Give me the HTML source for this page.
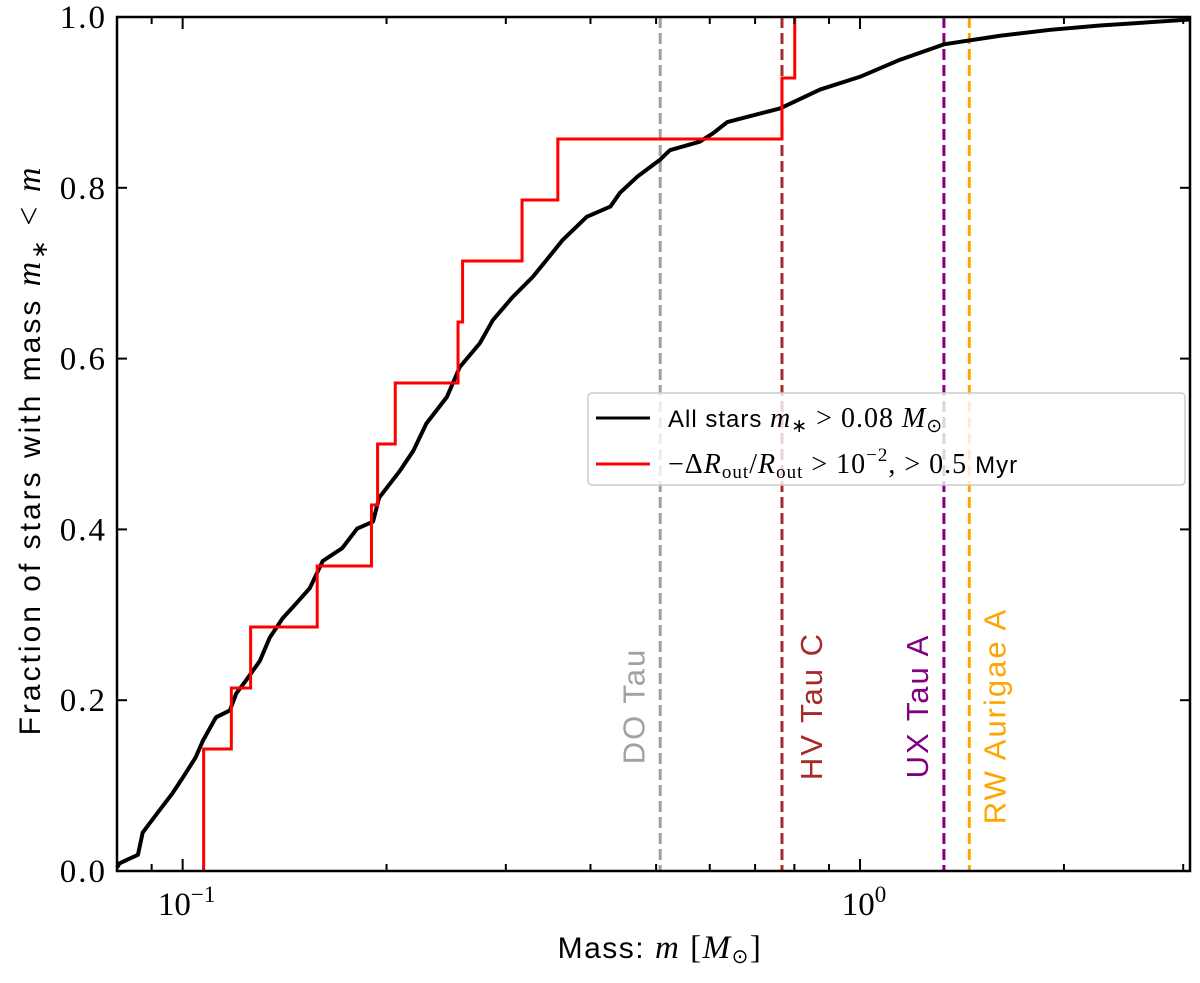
<!DOCTYPE html>
<html><head><meta charset="utf-8"><style>
body{margin:0;background:#fff;}
svg text{font-family:"Liberation Sans",sans-serif;}
.serif{font-family:"Liberation Serif",serif;}
</style></head><body>
<svg id="chart" width="1200" height="978" viewBox="0 0 1200 978" xmlns="http://www.w3.org/2000/svg">
<g id="plot"></g>
<g id="frame"></g>
</svg>
<script>
const allMass=[0.080,0.0807,0.0859,0.0873,0.0918,0.0966,0.100,0.1045,0.1072,0.112,0.1174,0.120,0.124,0.130,0.1344,0.1405,0.147,0.154,0.161,0.172,0.181,0.191,0.195,0.209,0.219,0.229,0.2455,0.2565,0.2746,0.287,0.307,0.329,0.345,0.364,0.395,0.428,0.442,0.469,0.507,0.524,0.580,0.607,0.637,0.681,0.762,0.873,1.0,1.146,1.33,1.61,1.91,2.26,3.07];
const allFrac=[0.004,0.009,0.019,0.045,0.068,0.091,0.109,0.133,0.153,0.180,0.188,0.208,0.223,0.246,0.273,0.296,0.313,0.331,0.363,0.378,0.401,0.409,0.437,0.468,0.492,0.524,0.555,0.590,0.618,0.645,0.672,0.696,0.716,0.739,0.766,0.778,0.794,0.813,0.833,0.844,0.854,0.864,0.877,0.883,0.893,0.915,0.93,0.95,0.968,0.978,0.985,0.99,0.997];
const redMass=[0.1074,0.118,0.126,0.158,0.190,0.194,0.206,0.255,0.259,0.317,0.358,0.767,0.801];
const redCount=[2,3,4,5,6,7,8,9,10,11,12,13,14];
const redTotal=14;
const vlineNames=["DO Tau","HV Tau C","UX Tau A","RW Aurigae A"];
const vlineMass=[0.507,0.767,1.33,1.45];
const vlineColors=["#a0a0a0","#a52a2a","#800080","#ffa500"];
const yTicks=[0,0.2,0.4,0.6,0.8,1.0];
const yTickLabels=["0.0","0.2","0.4","0.6","0.8","1.0"];
const xMin=0.08,xMax=3.07;
const L=117,R=1190,T=17,B=871;
const NS="http://www.w3.org/2000/svg";
function X(m){return L+(Math.log10(m)-Math.log10(xMin))/(Math.log10(xMax)-Math.log10(xMin))*(R-L);}
function Y(f){return B-f*(B-T);}
function mk(tag,attrs,parent,txt){const e=document.createElementNS(NS,tag);for(const k in attrs)e.setAttribute(k,attrs[k]);if(txt!==undefined)e.textContent=txt;parent.appendChild(e);return e;}
const plot=document.getElementById('plot'),frame=document.getElementById('frame');
vlineMass.forEach((m,i)=>{
 const ln=mk('line',{x1:X(m),x2:X(m),y1:T,y2:B,stroke:vlineColors[i],'stroke-width':3,'stroke-dasharray':'11,5'},plot);
 
 
 const x=X(m)+(i==0?-24:(i==2?-24:(i==3?28:32)));
 const yc=i==3?716:706;
 const t=mk('text',{x:x,y:yc,transform:`rotate(-90 ${x} ${yc})`,'text-anchor':'middle','font-size':31,'letter-spacing':2,fill:vlineColors[i],'dominant-baseline':'middle'},plot,vlineNames[i]);
 
 
});
let d=`M${X(allMass[0])},${Y(allFrac[0])}`;
for(let i=1;i<allMass.length;i++){d+=`L${X(allMass[i])},${Y(allFrac[i])}`;}
const blk=mk('path',{d:d,fill:'none',stroke:'#000','stroke-width':4,'stroke-linejoin':'round'},plot);


let dr=`M${X(redMass[0])},${Y(0)}`;
for(let i=0;i<redMass.length;i++){const f=redCount[i]/redTotal;dr+=`L${X(redMass[i])},${Y(f)}`;if(i+1<redMass.length)dr+=`L${X(redMass[i+1])},${Y(f)}`;}
const red=mk('path',{d:dr,fill:'none',stroke:'#ff0000','stroke-width':3},plot);


const ax=mk('rect',{x:L,y:T,width:R-L,height:B-T,fill:'none',stroke:'#000','stroke-width':2.5},frame);


yTicks.forEach((v,i)=>{
 mk('line',{x1:L,x2:L+10,y1:Y(v),y2:Y(v),stroke:'#000','stroke-width':2},frame);
 mk('line',{x1:R,x2:R-10,y1:Y(v),y2:Y(v),stroke:'#000','stroke-width':2},frame);
 const t=mk('text',{x:L-10,y:Y(v)+11,'text-anchor':'end','font-size':33,'letter-spacing':2,class:'serif'},frame,yTickLabels[i]);
 
 
});
for(let dec=-2;dec<=0;dec++)for(let k=1;k<10;k++){const m=k*Math.pow(10,dec);if(m<xMin||m>xMax)continue;
 const len=k==1?12:7;
 mk('line',{x1:X(m),x2:X(m),y1:B,y2:B-len,stroke:'#000','stroke-width':2},frame);
 mk('line',{x1:X(m),x2:X(m),y1:T,y2:T+len,stroke:'#000','stroke-width':2},frame);}
[[0.1,"−1"],[1,"0"]].forEach(([m,e])=>{
 const t=mk('text',{x:X(m)+4,y:B+44,'text-anchor':'middle','font-size':33,class:'serif'},frame);
 
 
 t.innerHTML=`10<tspan dy="-13" font-size="23">${e}</tspan>`;
});
const xl=mk('text',{x:660,y:958,'text-anchor':'middle','font-size':30,'letter-spacing':1.5},frame);


xl.innerHTML='Mass: <tspan class="serif" font-style="italic" font-size="33">m</tspan> <tspan class="serif" font-size="33">[<tspan font-style="italic">M</tspan><tspan font-size="20" dy="5">⊙</tspan><tspan dy="-5">]</tspan></tspan>';
const yl=mk('text',{x:40,y:450,transform:'rotate(-90 40 450)','text-anchor':'middle','font-size':30,'letter-spacing':3},frame);


yl.innerHTML='Fraction of stars with mass <tspan class="serif" font-style="italic" font-size="34">m</tspan><tspan class="serif" font-size="22" dy="7">∗</tspan><tspan class="serif" font-size="34" dy="-7"> &lt; </tspan><tspan class="serif" font-style="italic" font-size="34">m</tspan>';
const lg=mk('g',{},frame);


mk('rect',{x:588,y:393,width:597,height:92,rx:4,fill:'rgba(255,255,255,0.8)',stroke:'#ccc','stroke-width':1.5},lg);
const e1=mk('line',{x1:596,x2:650,y1:418,y2:418,stroke:'#000','stroke-width':3},lg);


const e2=mk('line',{x1:596,x2:650,y1:464,y2:464,stroke:'#ff0000','stroke-width':3},lg);


const t1=mk('text',{x:668,y:427,'font-size':24,'letter-spacing':1},lg);
t1.innerHTML='All stars <tspan class="serif" font-style="italic" font-size="28">m</tspan><tspan class="serif" font-size="19" dy="5">∗</tspan><tspan class="serif" font-size="28" dy="-5"> &gt; 0.08 </tspan><tspan class="serif" font-style="italic" font-size="28">M</tspan><tspan class="serif" font-size="19" dy="5">⊙</tspan>';


const t2=mk('text',{x:668,y:473,'font-size':24,'letter-spacing':1},lg);
t2.innerHTML='<tspan class="serif" font-size="28">−Δ<tspan font-style="italic">R</tspan><tspan font-size="19" dy="5">out</tspan><tspan dy="-5">/</tspan><tspan font-style="italic">R</tspan><tspan font-size="19" dy="5">out</tspan><tspan dy="-5"> &gt; 10</tspan><tspan font-size="19" dy="-12">−2</tspan><tspan dy="12">, &gt; 0.5 </tspan></tspan>Myr';


</script>
</body></html>
